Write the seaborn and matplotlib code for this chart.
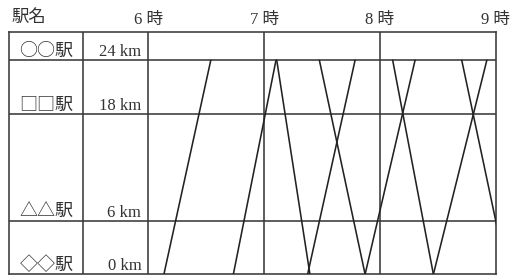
import matplotlib
matplotlib.use("Agg")
import matplotlib.pyplot as plt
import seaborn as sns
import pandas as pd

# Stations (name, distance from ◇◇駅 in km)
station_names = ["○○駅", "□□駅", "△△駅", "◇◇駅"]
station_km = [24, 18, 6, 0]

# Hour labels along the top
hours = [6, 7, 8, 9]
hour_labels = ["6 時", "7 時", "8 時", "9 時"]

# Train times in minutes after 6:00
# up trains: leave ◇◇駅 (0 km) -> arrive ○○駅 (24 km)
up_depart = [8, 44, 82.5, 112.3, 147.7]
up_arrive = [32.3, 66.1, 107.1, 138.2, 175.4]
# down trains: leave ○○駅 (24 km) -> arrive ◇◇駅 (0 km)
down_depart = [66.5, 88.6, 126.6, 162.4]
down_arrive = [83.7, 112.3, 147.7, 185.9]

rows = []
for i, (d, a) in enumerate(zip(up_depart, up_arrive)):
    rows.append({"train": f"up{i}", "hour": 6 + d / 60, "km": 0})
    rows.append({"train": f"up{i}", "hour": 6 + a / 60, "km": 24})
for i, (d, a) in enumerate(zip(down_depart, down_arrive)):
    rows.append({"train": f"down{i}", "hour": 6 + d / 60, "km": 24})
    rows.append({"train": f"down{i}", "hour": 6 + a / 60, "km": 0})
trains = pd.DataFrame(rows)

sns.set_style("white")
plt.rcParams['font.family'] = ['Liberation Serif', 'Noto Sans CJK JP', 'DejaVu Sans']
cjk = ['Noto Sans CJK JP', 'DejaVu Sans']

grid_color = '#3a3a3a'
text_color = '#333333'

fig = plt.figure(figsize=(5.11, 2.75), dpi=100)
ax = fig.add_axes([9 / 511, 0.7 / 275, 486.7 / 511, 242.6 / 275])

# table layout (x in hours, y in km)
x_left = 4.795
x_col = 5.434
y_top = 27.2

sns.lineplot(data=trains, x='hour', y='km', units='train', estimator=None,
             sort=False, color='#222222', linewidth=1.15, ax=ax, legend=False,
             zorder=3)

for x in [x_col] + hours[:-1]:
    ax.axvline(x, color=grid_color, linewidth=1.15, zorder=1)
for km in station_km[:-1]:
    ax.axhline(km, color=grid_color, linewidth=1.15, zorder=1)

ax.set_xlim(x_left, 9)
ax.set_ylim(0, y_top)

for s in ax.spines.values():
    s.set_visible(True)
    s.set_color(grid_color)
    s.set_linewidth(1.15)

# station names and distances, just above each station line
for name, km in zip(station_names, station_km):
    ax.text(5.352, km + 0.45, name, ha='right', va='baseline',
            fontsize=13, color=text_color, family=cjk)
    ax.text(5.938, km + 0.45, f"{km} km", ha='right', va='baseline',
            fontsize=12, color=text_color)

# hour labels on top
ax.xaxis.tick_top()
ax.set_xticks(hours)
ax.set_xticklabels(hour_labels, fontsize=12, color=text_color)
ax.tick_params(axis='x', length=0, pad=3)
ax.set_yticks([])
ax.set_xlabel('')
ax.set_ylabel('')

ax.text(4.82, y_top + 0.6, "駅名", ha='left', va='bottom', fontsize=12.5,
        color=text_color, family=cjk, clip_on=False)

fig.savefig('out.png', dpi=100)
